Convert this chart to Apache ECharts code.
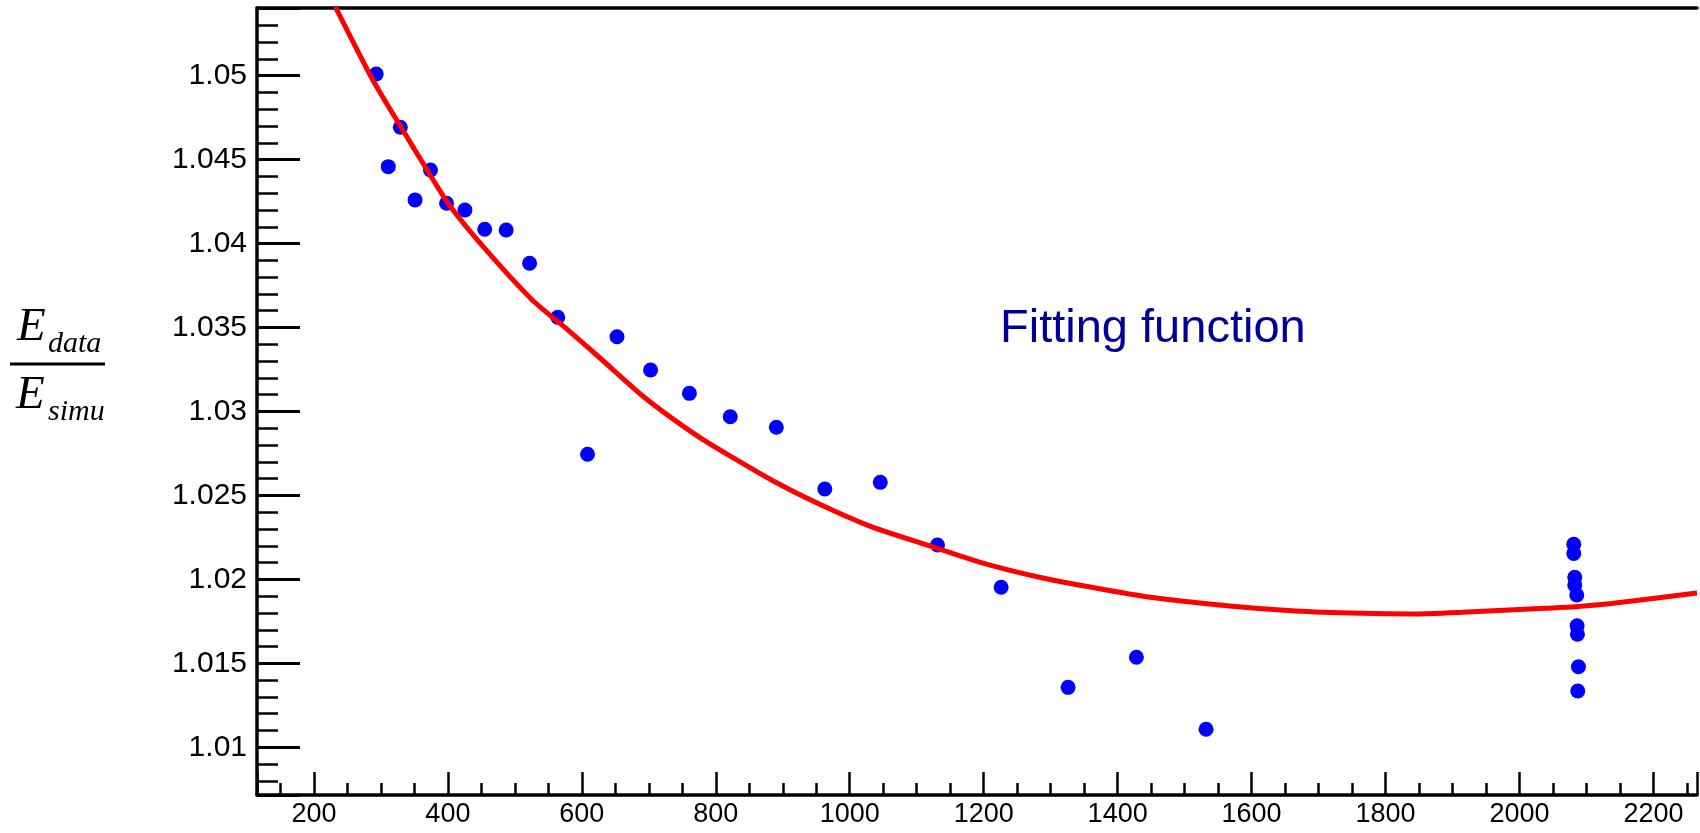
<!DOCTYPE html>
<html>
<head>
<meta charset="utf-8">
<script src="https://cdn.jsdelivr.net/npm/echarts@6.0.0/dist/echarts.min.js"></script>
<style>
  html, body { margin: 0; padding: 0; background: #ffffff; }
  #chart { width: 1700px; height: 833px; }
</style>
</head>
<body>
<div id="chart"></div>
<script>
// Measured points (E_data / E_simu vs energy)
const pointX = [293, 311, 329, 351, 374, 398, 425.5, 455, 487, 522, 564, 608.5, 652.5, 702.6, 760.6, 821.6, 890.4, 962.8, 1045.6, 1131, 1226, 1326, 1428, 1532,
                2081, 2081, 2082.5, 2082.5, 2085.5, 2086, 2086.5, 2088, 2087];
const pointY = [1.0501, 1.04458, 1.04693, 1.0426, 1.04438, 1.0424, 1.042, 1.04085, 1.04081, 1.03883, 1.03561, 1.02745, 1.03445, 1.03247, 1.03108, 1.02969, 1.02906, 1.02538, 1.02578, 1.02205, 1.01953, 1.01357, 1.01536, 1.01108,
                1.02209, 1.02155, 1.02013, 1.01967, 1.01907, 1.01724, 1.01673, 1.0148, 1.01335];

// Fitting function
const fitX = [232, 288, 328, 372, 402, 457, 526, 576, 625, 695, 774, 823, 883, 952, 1032, 1131, 1200, 1290, 1369, 1443, 1567, 1666, 1765, 1840, 1914, 2038, 2083, 2137, 2265];
const fitY = [1.0541, 1.04974, 1.04706, 1.04419, 1.0423, 1.03962, 1.03664, 1.03496, 1.03326, 1.03079, 1.0285, 1.02731, 1.02592, 1.02453, 1.02314, 1.02185, 1.02096, 1.02007, 1.01947, 1.01897, 1.01842, 1.01812, 1.01798, 1.01794, 1.01804, 1.01828, 1.01837, 1.01857, 1.01919];

const xRange = [115, 2265];
const yRange = [1.00716, 1.05403];
const xStep = 200;
const yStep = 0.005;
const annotation = 'Fitting function';

const chart = echarts.init(document.getElementById('chart'), null, { renderer: 'canvas' });

function onStep(v, step) {
  const r = v / step;
  return Math.abs(r - Math.round(r)) < 1e-6;
}

const axisCol = '#000000';
const tickW = 2.5;
const serif = "'Liberation Serif', 'Times New Roman', serif";

const option = {
  backgroundColor: '#ffffff',
  animation: false,
  grid: { left: 257, right: -3, top: 8, bottom: 38, containLabel: false },
  xAxis: [{
    type: 'value',
    min: xRange[0], max: xRange[1],
    minInterval: xStep, maxInterval: xStep,
    axisLine: { show: true, onZero: false, lineStyle: { color: axisCol, width: 3.5 } },
    axisTick: { show: false, inside: true },
    minorTick: { show: true, splitNumber: 4, length: 12, lineStyle: { color: axisCol, width: tickW } },
    splitLine: { show: false },
    axisLabel: {
      margin: 6, color: '#000', fontSize: 27,
      fontFamily: "'Liberation Sans Narrow', 'Liberation Sans', Arial, sans-serif",
      formatter: v => onStep(v, xStep) ? String(Math.round(v)) : ''
    }
  }, {
    type: 'value', position: 'bottom', gridIndex: 0,
    min: xRange[0], max: xRange[1],
    minInterval: xStep, maxInterval: xStep,
    axisLine: { show: false, onZero: false },
    axisTick: { show: true, inside: true, length: 23, lineStyle: { color: axisCol, width: tickW } },
    axisLabel: { show: false }, splitLine: { show: false }
  }, {
    type: 'value', position: 'top',
    min: xRange[0], max: xRange[1],
    axisLine: { show: true, onZero: false, lineStyle: { color: axisCol, width: 3.5 } },
    axisTick: { show: false }, axisLabel: { show: false }, splitLine: { show: false }
  }],
  yAxis: [{
    type: 'value',
    min: yRange[0], max: yRange[1],
    minInterval: yStep, maxInterval: yStep,
    axisLine: { show: true, onZero: false, lineStyle: { color: axisCol, width: 3.5 } },
    axisTick: { show: true, inside: true, length: 43, lineStyle: { color: axisCol, width: 3 } },
    minorTick: { show: true, splitNumber: 5, length: 21, lineStyle: { color: axisCol, width: tickW } },
    splitLine: { show: false },
    axisLabel: {
      margin: 10, color: '#000', fontSize: 30,
      fontFamily: "'Liberation Sans', Arial, sans-serif",
      formatter: v => onStep(v, yStep) ? String(+v.toFixed(3)) : ''
    }
  }],
  series: [{
    type: 'scatter',
    name: 'data',
    data: pointX.map((x, i) => [x, pointY[i]]),
    symbol: 'circle',
    symbolSize: 15,
    itemStyle: { color: '#0000ff', opacity: 1 },
    z: 2
  }, {
    type: 'line',
    name: 'fit',
    data: fitX.map((x, i) => [x, fitY[i]]),
    showSymbol: false,
    symbol: 'none',
    smooth: 0.25,
    clip: true,
    lineStyle: { color: '#ff0000', width: 5 },
    z: 3
  }],
  graphic: [
    { type: 'text', x: 1000, y: 329, style: { text: annotation, fill: '#000099', fontSize: 47, fontFamily: "'Liberation Sans', Arial, sans-serif", align: 'left', verticalAlign: 'middle' } },
    { type: 'text', x: 17, y: 328, style: { text: 'E', fill: '#000', fontSize: 47, fontStyle: 'italic', fontFamily: serif, align: 'left', verticalAlign: 'middle' } },
    { type: 'text', x: 48, y: 344, style: { text: 'data', fill: '#000', fontSize: 30, fontStyle: 'italic', fontFamily: serif, align: 'left', verticalAlign: 'middle' } },
    { type: 'rect', shape: { x: 10, y: 362.5, width: 95, height: 3 }, style: { fill: '#000' } },
    { type: 'text', x: 16, y: 396, style: { text: 'E', fill: '#000', fontSize: 47, fontStyle: 'italic', fontFamily: serif, align: 'left', verticalAlign: 'middle' } },
    { type: 'text', x: 48, y: 412, style: { text: 'simu', fill: '#000', fontSize: 30, fontStyle: 'italic', fontFamily: serif, align: 'left', verticalAlign: 'middle' } }
  ]
};
chart.setOption(option);
</script>
</body>
</html>
